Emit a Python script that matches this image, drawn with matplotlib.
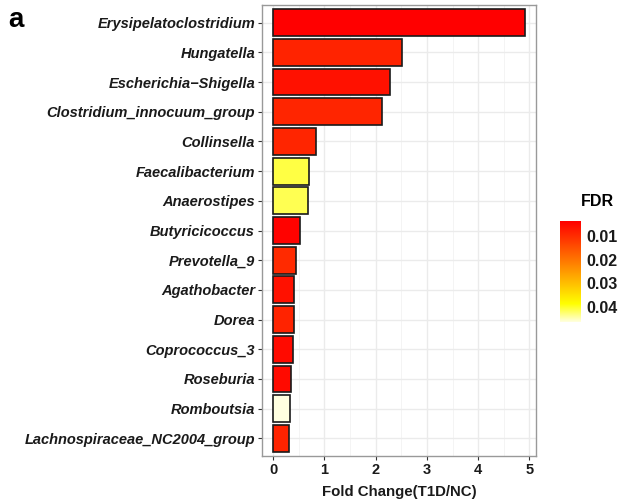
import matplotlib
matplotlib.use("Agg")
import matplotlib.pyplot as plt
import numpy as np
from matplotlib.colors import LinearSegmentedColormap, Normalize
from matplotlib.ticker import MultipleLocator

plt.rcParams['font.family'] = ['Liberation Sans', 'DejaVu Sans']

genera = [
    "Erysipelatoclostridium", "Hungatella", "Escherichia\u2212Shigella",
    "Clostridium_innocuum_group", "Collinsella", "Faecalibacterium",
    "Anaerostipes", "Butyricicoccus", "Prevotella_9", "Agathobacter",
    "Dorea", "Coprococcus_3", "Roseburia", "Romboutsia",
    "Lachnospiraceae_NC2004_group",
]
fold_change = [4.91, 2.52, 2.27, 2.12, 0.83, 0.69, 0.67, 0.53, 0.44,
               0.40, 0.40, 0.38, 0.35, 0.32, 0.30]
fdr = [0.0036, 0.0085, 0.0060, 0.0088, 0.0088, 0.0410, 0.0415, 0.0040,
       0.0095, 0.0060, 0.0085, 0.0050, 0.0050, 0.0465, 0.0085]
fdr_ticks = [0.01, 0.02, 0.03, 0.04]

cmap = LinearSegmentedColormap.from_list(
    "fdr", [(0.0, "#FF0000"), (0.45, "#FF8A00"), (0.82, "#FFFF00"), (1.0, "#FFFFE0")])
norm = Normalize(vmin=min(fdr), vmax=max(fdr))

W, H = 618, 504
fig = plt.figure(figsize=(W / 100, H / 100), dpi=100)
ax = fig.add_axes([262 / W, 1 - 456 / H, (536 - 262) / W, (456 - 5) / H])

n = len(genera)
ypos = np.arange(n)[::-1]
ax.barh(ypos, fold_change, height=0.9, color=cmap(norm(fdr)),
        edgecolor="#1a1a1a", linewidth=1.2, zorder=3)

ax.set_xlim(-0.22, 5.13)
ax.set_ylim(-0.6, n - 0.4)
ax.set_yticks(ypos)
ax.set_yticklabels(genera, fontsize=10.5, fontweight="bold", style="italic", color="#1a1a1a")
ax.xaxis.set_major_locator(MultipleLocator(1))
ax.xaxis.set_minor_locator(MultipleLocator(0.5))
ax.tick_params(axis="x", labelsize=10.5, colors="#333333", length=3, width=0.8, pad=2)
ax.tick_params(axis="x", which="minor", length=0)
ax.tick_params(axis="y", colors="#333333", length=3, width=0.8, pad=2)
for lbl in ax.get_xticklabels():
    lbl.set_fontweight("bold")
    lbl.set_color("#1a1a1a")
for lbl in ax.get_yticklabels():
    lbl.set_color("#1a1a1a")

ax.grid(True, which="major", color="#EBEBEB", linewidth=1.0, zorder=0)
ax.grid(True, which="minor", axis="x", color="#F2F2F2", linewidth=0.6, zorder=0)
ax.set_axisbelow(True)
for s in ax.spines.values():
    s.set_color("#999999")
    s.set_linewidth(1.0)

ax.set_xlabel("Fold Change(T1D/NC)", fontsize=10.8, fontweight="bold", color="#1a1a1a", labelpad=6)

fig.text(8 / W, 1 - 20 / H, "a", fontsize=20, fontweight="bold", va="center", ha="left")

# colour bar for FDR
cax = fig.add_axes([560 / W, 1 - 322 / H, 21 / W, 101 / H])
grad = np.linspace(norm.vmin, norm.vmax, 256).reshape(-1, 1)
cax.imshow(grad, aspect="auto", cmap=cmap, norm=norm, origin="upper",
           extent=[0, 1, norm.vmax, norm.vmin])
cax.set_xlim(0, 1)
cax.set_ylim(norm.vmax, norm.vmin)
cax.set_xticks([])
cax.yaxis.tick_right()
cax.set_yticks(fdr_ticks)
cax.set_yticklabels([f"{t:.2f}" for t in fdr_ticks], fontsize=11.5, fontweight="bold", color="#1a1a1a")
cax.tick_params(axis="y", length=0, pad=4)
for s in cax.spines.values():
    s.set_visible(False)
fig.text(581 / W, 1 - 202 / H, "FDR", fontsize=11.5, fontweight="bold", va="center", ha="left")

fig.savefig("out.png", dpi=100)
